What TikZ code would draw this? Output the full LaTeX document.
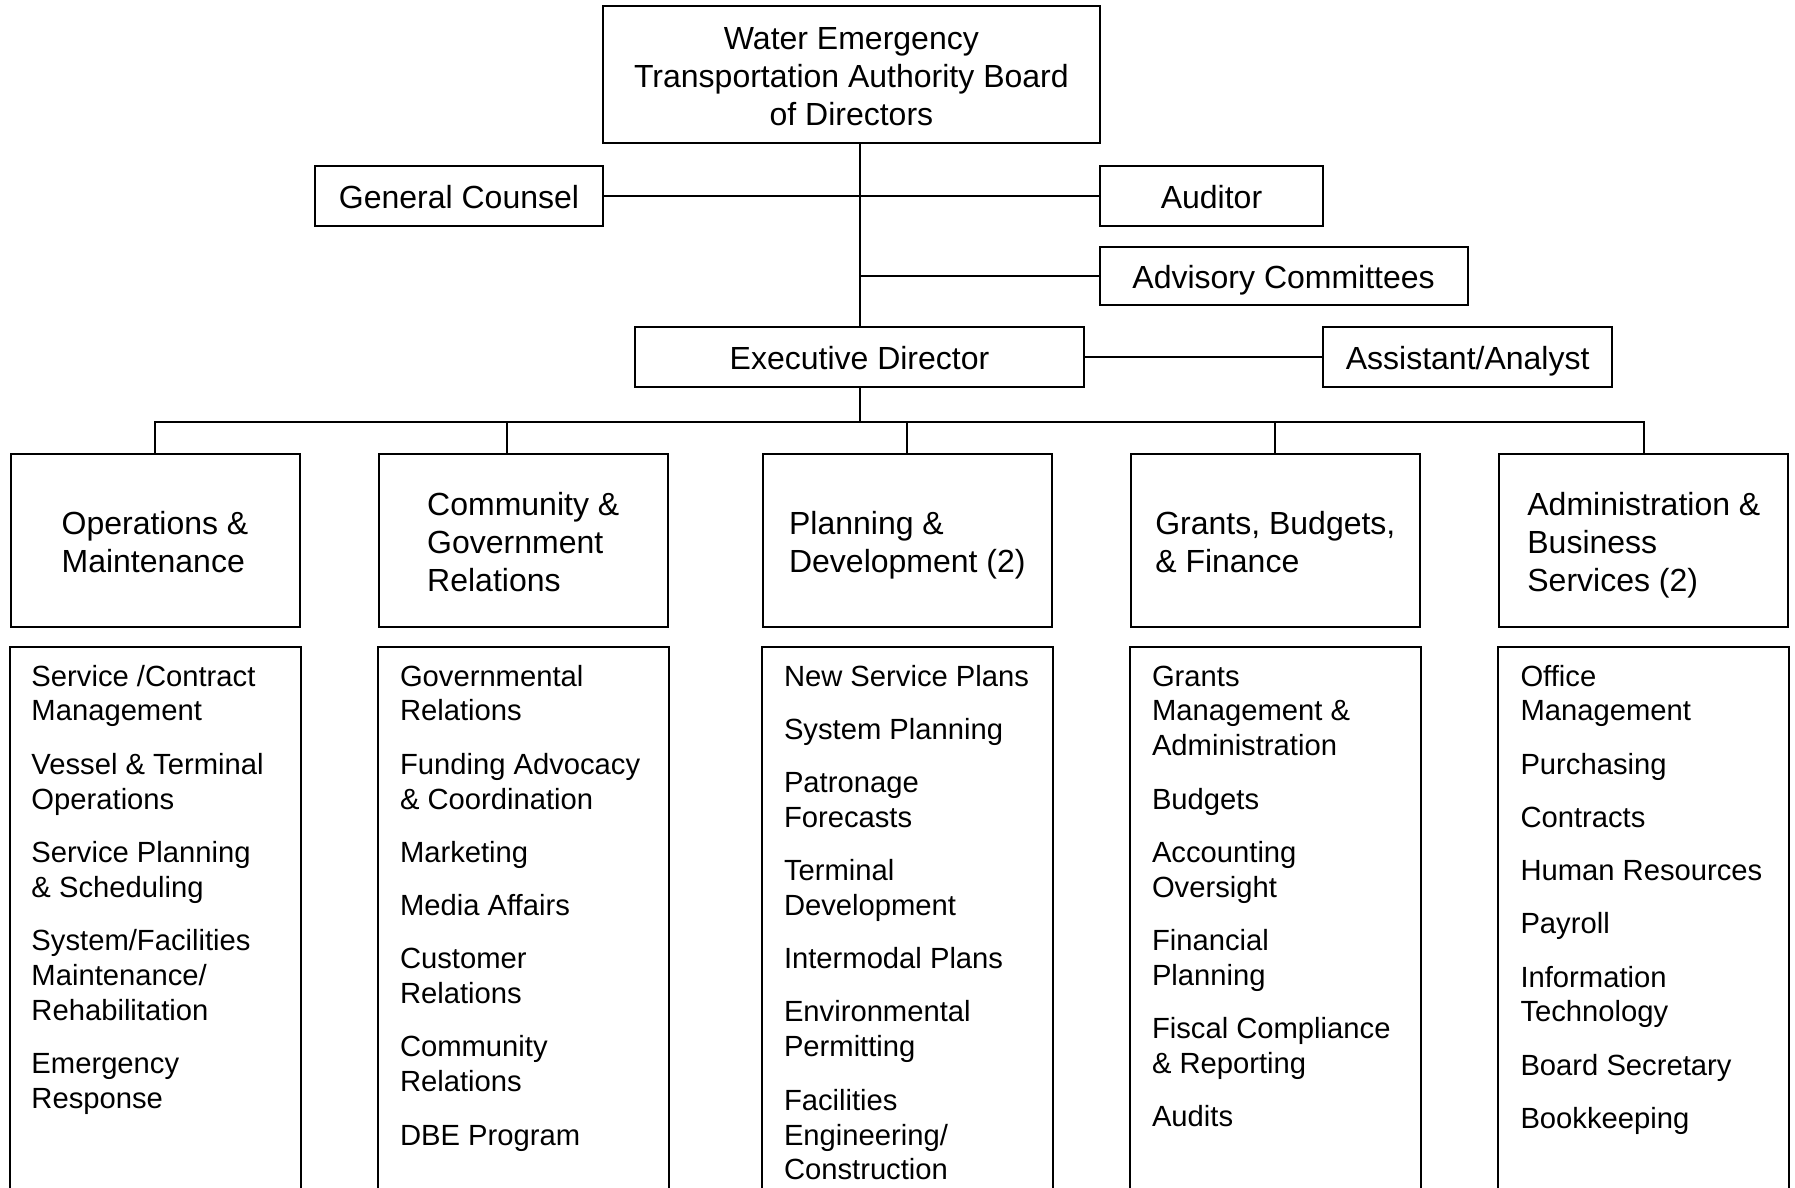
\documentclass[tikz,border=0pt]{standalone}
\usepackage{fontspec}
\setmainfont{Liberation Sans}
\usepackage{tikz}
\tikzset{every picture/.style={line width=1pt}}
\newcommand{\liststrut}{\rule{0pt}{12pt}}
\newcommand{\hdrtop}{\rule{0pt}{16.7pt}}
\newcommand{\boardtop}{\rule{0pt}{16.8pt}}
\newcommand{\hdrbot}{\rule[-3.6pt]{0pt}{3.6pt}}

\begin{document}
\begin{tikzpicture}[x=0.5pt,y=0.5pt,yscale=-1,xscale=1,
  box/.style={draw, inner sep=0pt, align=center, minimum height=30pt, font=\fontsize{16}{19}\selectfont},
  single/.style={box, text height=15.9pt, text depth=3.6pt},
  unit/.style={draw, inner sep=0pt, align=left, minimum width=144.5pt, minimum height=86.5pt, font=\fontsize{16}{19.15}\selectfont},
  duties/.style={inner sep=0pt, anchor=north west, align=left, font=\fontsize{14.6}{17.46}\selectfont}]
\useasboundingbox (0,0) rectangle (1795,1188);
\coordinate (floor) at (0,1188);

% Text Node
\node (board) [box, minimum width=248.2pt, minimum height=68.35pt] at (851.4,74.35) {\boardtop Water Emergency\\Transportation Authority Board\\of Directors\hdrbot};
% Text Node
\node (counsel) [single, minimum width=144pt] at (459,196) {General Counsel};
% Text Node
\node (auditor) [single, minimum width=111.9pt] at (1211.5,196) {Auditor};
% Text Node
\node (advisory) [single, minimum width=184pt, minimum height=29.3pt] at (1283.6,276) {Advisory Committees};
% Text Node
\node (exec) [single, minimum width=224.1pt] at (859.5,356.7) {Executive Director};
% Text Node
\node (assistant) [single, minimum width=144.25pt] at (1467.65,356.7) {Assistant/Analyst};

% Text Node
\node (ops) [unit] at (155,540.5) {\hdrtop Operations \&\\Maintenance\hdrbot};
% Text Node
\node (cgr) [unit] at (523.25,540.5) {\hdrtop Community \&\\Government\\Relations\hdrbot};
% Text Node
\node (pd) [unit] at (907.35,540.5) {\hdrtop Planning \&\\Development (2)\hdrbot};
% Text Node
\node (gbf) [unit] at (1275.35,540.5) {\hdrtop Grants, Budgets,\\\& Finance\hdrbot};
% Text Node
\node (abs) [unit] at (1643.85,540.5) {\hdrtop Administration \&\\Business\\Services (2)\hdrbot};

%Straight Lines
\draw (exec.north) -- (exec.north |- board.south);
\draw (counsel.east) -- (auditor.west);
\draw (advisory.west) -- (advisory.west -| exec.north);
\draw (exec.east) -- (assistant.west);
\coordinate (bus) at (859.5,422.3);
\draw (exec.south) -- (bus);
\draw (ops.north) |- (bus) -| (abs.north);
\draw ([xshift=-8pt]cgr.north) -- ([xshift=-8pt]cgr.north |- bus);
\foreach \n in {pd,gbf}
  \draw (\n.north) -- (\n.north |- bus);

%Shape: Open Rectangle
\foreach \n in {ops,cgr,pd,gbf,abs}
  \draw (\n.south west |- floor) |- ([yshift=9.7pt]\n.south east) -- (\n.south east |- floor);

% Text Node
\node (opsList) [duties] at (30.5,661) {\liststrut Service /Contract\\Management\\[9.15pt]Vessel \& Terminal\\Operations\\[9.15pt]Service Planning\\\& Scheduling\\[9.15pt]System/Facilities\\Maintenance/\\Rehabilitation\\[9.15pt]Emergency\\Response};
% Text Node
\node (cgrList) [duties] at (399,661) {\liststrut Governmental\\Relations\\[9.15pt]Funding Advocacy\\\& Coordination\\[9.15pt]Marketing\\[9.15pt]Media Affairs\\[9.15pt]Customer\\Relations\\[9.15pt]Community\\Relations\\[9.15pt]DBE Program};
% Text Node
\node (pdList) [duties] at (783,661) {\liststrut New Service Plans\\[9.15pt]System Planning\\[9.15pt]Patronage\\Forecasts\\[9.15pt]Terminal\\Development\\[9.15pt]Intermodal Plans\\[9.15pt]Environmental\\Permitting\\[9.15pt]Facilities\\Engineering/\\Construction};
% Text Node
\node (gbfList) [duties] at (1151,661) {\liststrut Grants\\Management \&\\Administration\\[9.15pt]Budgets\\[9.15pt]Accounting\\Oversight\\[9.15pt]Financial\\Planning\\[9.15pt]Fiscal Compliance\\\& Reporting\\[9.15pt]Audits};
% Text Node
\node (absList) [duties] at (1519.5,661) {\liststrut Office\\Management\\[9.15pt]Purchasing\\[9.15pt]Contracts\\[9.15pt]Human Resources\\[9.15pt]Payroll\\[9.15pt]Information\\Technology\\[9.15pt]Board Secretary\\[9.15pt]Bookkeeping};

\end{tikzpicture}
\end{document}
